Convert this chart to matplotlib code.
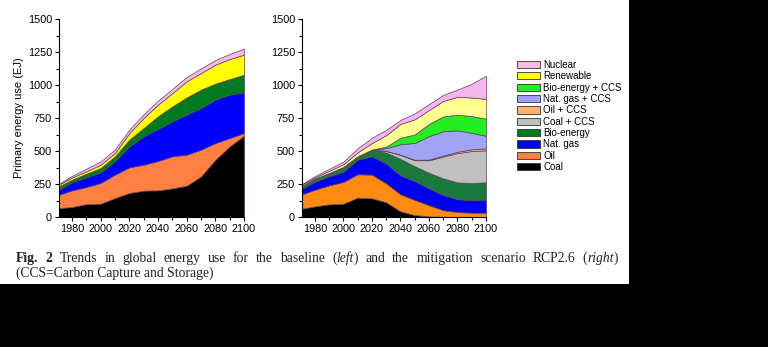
import matplotlib
matplotlib.use("Agg")
import matplotlib.pyplot as plt
from matplotlib.patches import Rectangle, Patch
from matplotlib.ticker import MultipleLocator

years = [1971, 1980, 1990, 2000, 2010, 2020, 2030, 2040, 2050, 2060, 2070, 2080, 2090, 2100]

# baseline scenario (EJ per source)
base_coal = [68, 76, 98, 101, 144, 182, 200, 202, 217, 237, 308, 434, 535, 616]
base_oil = [101, 126, 129, 157, 177, 194, 196, 222, 243, 235, 202, 126, 63, 20]
base_gas = [38, 61, 73, 80, 101, 159, 215, 243, 265, 303, 316, 329, 329, 308]
base_bio = [25, 20, 28, 33, 38, 51, 63, 96, 113, 131, 139, 121, 118, 134]
base_ren = [13, 17, 18, 25, 25, 50, 76, 88, 101, 122, 126, 144, 152, 152]
base_nuc = [7, 12, 20, 25, 28, 26, 28, 30, 32, 32, 35, 35, 38, 45]

# RCP2.6 mitigation scenario (EJ per source)
rcp_coal = [63, 81, 96, 101, 147, 142, 112, 43, 15, 5, 2, 1, 1, 1]
rcp_oil = [109, 126, 144, 165, 177, 179, 143, 129, 115, 85, 50, 37, 32, 32]
rcp_gas = [43, 59, 69, 78, 111, 139, 150, 144, 142, 127, 114, 97, 95, 95]
rcp_bio = [20, 25, 25, 36, 25, 51, 83, 124, 113, 118, 126, 127, 130, 135]
rcp_coal_ccs = [0, 0, 0, 0, 0, 0, 12, 30, 45, 95, 166, 222, 242, 242]
rcp_oil_ccs = [0, 0, 0, 0, 0, 0, 1, 2, 3, 5, 8, 10, 13, 15]
rcp_gas_ccs = [0, 0, 0, 0, 0, 0, 21, 79, 128, 177, 184, 163, 124, 95]
rcp_bio_ccs = [0, 0, 0, 0, 0, 0, 11, 49, 64, 93, 112, 118, 128, 130]
rcp_ren = [10, 9, 16, 20, 30, 49, 87, 105, 115, 105, 118, 135, 140, 150]
rcp_nuc = [5, 10, 15, 20, 30, 40, 40, 30, 45, 45, 45, 55, 105, 175]

labels = ["Coal", "Oil", "Nat. gas", "Bio-energy", "Coal + CCS", "Oil + CCS",
          "Nat. gas + CCS", "Bio-energy + CCS", "Renewable", "Nuclear"]
colors = ["#000000", "#ff8040", "#0000ff", "#007a20", "#c0c0c0", "#ffb070",
          "#a0a0f8", "#22ee22", "#ffff00", "#f8b8e4"]
rcp_colors = ["#000000", "#ff8a10", "#0000f0", "#1a7a3e", "#c0c0c0", "#ffb070",
              "#a0a4f4", "#22ee22", "#ffff90", "#f8b4ec"]

W, H = 768, 347
fig = plt.figure(figsize=(W / 100, H / 100), dpi=100, facecolor="black")
fig.add_artist(Rectangle((0, 1 - 284 / H), 629 / W, 284 / H, transform=fig.transFigure,
                         facecolor="white", edgecolor="none", zorder=0))

plt.rcParams["font.family"] = ["Liberation Sans", "DejaVu Sans"]
edge = "#604060"


def setup(ax):
    ax.set_xlim(1971, 2100)
    ax.set_ylim(0, 1500)
    ax.set_facecolor("none")
    for s in ("top", "right"):
        ax.spines[s].set_visible(False)
    for s in ("left", "bottom"):
        ax.spines[s].set_linewidth(0.8)
    ax.xaxis.set_minor_locator(MultipleLocator(10))
    ax.set_xticks(range(1980, 2101, 20))
    ax.yaxis.set_major_locator(MultipleLocator(250))
    ax.yaxis.set_minor_locator(MultipleLocator(125))
    ax.tick_params(which="major", length=3, width=0.8, labelsize=7.8, pad=2)
    ax.tick_params(which="minor", length=2, width=0.8)


ax1 = fig.add_axes([59 / W, 1 - 217 / H, 185 / W, 198 / H])
ax1.stackplot(years, base_coal, base_oil, base_gas, base_bio, base_ren, base_nuc,
              colors=[colors[i] for i in (0, 1, 2, 3, 8, 9)], edgecolor=edge, linewidth=0.5)
setup(ax1)
ax1.set_ylabel("Primary energy use (EJ)", fontsize=8, labelpad=3)

ax2 = fig.add_axes([302 / W, 1 - 217 / H, 184 / W, 198 / H])
ax2.stackplot(years, rcp_coal, rcp_oil, rcp_gas, rcp_bio, rcp_coal_ccs, rcp_oil_ccs,
              rcp_gas_ccs, rcp_bio_ccs, rcp_ren, rcp_nuc,
              colors=rcp_colors, edgecolor=edge, linewidth=0.5)
setup(ax2)

handles = [Patch(facecolor=c, edgecolor="#333333", linewidth=0.6, label=l)
           for c, l in zip(colors, labels)][::-1]
fig.legend(handles=handles, loc="upper left", bbox_to_anchor=(513 / W, 1 - 56 / H),
           frameon=False, fontsize=7, handlelength=2.4, handleheight=0.75,
           handletextpad=0.3, labelspacing=0.14, borderaxespad=0)

# caption, first line justified between two margins
cap_words = [[("Fig.", "bold")], [("2", "bold")], [("Trends", "")], [("in", "")],
             [("global", "")], [("energy", "")], [("use", "")], [("for", "")],
             [("the", "")], [("baseline", "")], [("(", ""), ("left", "italic"), (")", "")],
             [("and", "")], [("the", "")], [("mitigation", "")], [("scenario", "")],
             [("RCP2.6", "")], [("(", ""), ("right", "italic"), (")", "")]]
cap_font = dict(family="Liberation Serif", fontsize=9.8, color="#222222", va="baseline")
fig.canvas.draw()
renderer = fig.canvas.get_renderer()


def piece(x, y, s, style):
    kw = dict(cap_font)
    if style == "bold":
        kw["fontweight"] = "bold"
    elif style == "italic":
        kw["fontstyle"] = "italic"
    t = fig.text(x / W, 1 - y / H, s, **kw)
    return t, t.get_window_extent(renderer).width


x_left, x_right, y1 = 16, 618, 262
word_texts = []
total = 0
for w in cap_words:
    parts = []
    for s, style in w:
        t, wd = piece(0, y1, s, style)
        parts.append((t, wd))
        total += wd
    word_texts.append(parts)
gap = (x_right - x_left - total) / (len(cap_words) - 1)
x = x_left
for parts in word_texts:
    for t, wd in parts:
        t.set_x(x / W)
        x += wd
    x += gap

fig.text(x_left / W, 1 - 277 / H, "(CCS=Carbon Capture and Storage)", **cap_font)

fig.savefig("out.png", dpi=100, facecolor="black")
